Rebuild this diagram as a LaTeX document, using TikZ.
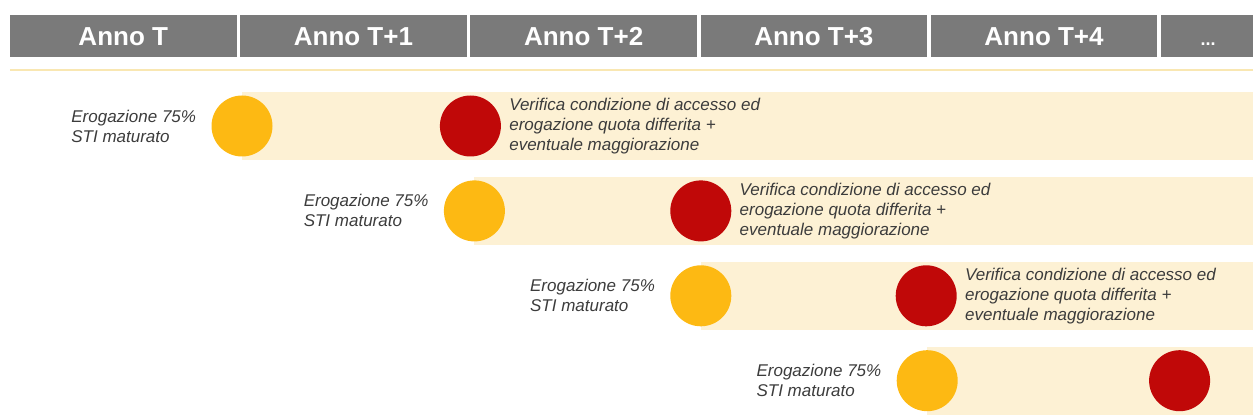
\documentclass[tikz,border=0pt]{standalone}
\usepackage{fontspec}
\setmainfont{Liberation Sans}
\usepackage{tikz}
\usetikzlibrary{positioning,calc,backgrounds}
\definecolor{annoGray}{RGB}{122,122,122}
\definecolor{stiYellow}{RGB}{253,185,19}
\definecolor{stiRed}{RGB}{192,8,8}
\definecolor{bandLight}{RGB}{253,241,212}
\definecolor{lineLight}{RGB}{249,231,178}
\definecolor{noteText}{RGB}{60,60,60}

\begin{document}
\begin{tikzpicture}[
    x=1pt, y=-1pt,
    node distance=3.3pt,
    anno/.style={fill=annoGray, text=white, font=\bfseries\fontsize{26}{30}\selectfont, minimum width=226.5pt, minimum height=42pt, text height=18.6pt, text depth=0pt, inner sep=0pt},
    acconto/.style={circle, fill=stiYellow, minimum size=61pt, inner sep=0pt},
    saldo/.style={circle, fill=stiRed, minimum size=61pt, inner sep=0pt},
    nota/.style={align=left, text=noteText, font=\itshape\fontsize{17}{20}\selectfont, inner sep=0pt},
    fascia/.style={fill=bandLight}
  ]
    \useasboundingbox (0,0) rectangle (1253,419);
    % header
    \node[anno] (a0) at (123.25,36) {Anno T};
    \node[anno, right=of a0] (a1) {Anno T+1};
    \node[anno, right=of a1] (a2) {Anno T+2};
    \node[anno, right=of a2] (a3) {Anno T+3};
    \node[anno, right=of a3] (a4) {Anno T+4};
    \node[anno, right=of a4, minimum width=94pt] (a5) {\fontsize{18}{20}\selectfont ...};
    \coordinate (fine) at (1253,0);
    \draw[lineLight, line width=2.5pt] ($(a0.south west)+(0,13)$) -- ($(a0.south west -| fine)+(0,13)$);
    % rows
    \node[acconto] (y1) at (242,126) {};
    \node[saldo, right=167pt of y1] (r1) {};
    \node[acconto, below=23.5pt of r1, xshift=4pt] (y2) {};
    \node[saldo, right=165pt of y2] (r2) {};
    \node[acconto, below=23.5pt of r2] (y3) {};
    \node[saldo, right=164pt of y3] (r3) {};
    \node[acconto, below=23.5pt of r3, xshift=1pt] (y4) {};
    \node[saldo, right=191pt of y4] (r4) {};
    \begin{scope}[on background layer]
      \foreach \i in {1,...,4}
        \fill[fascia] ($(y\i.center)+(0,-34)$) rectangle ($(y\i.center -| fine)+(0,34)$);
    \end{scope}
    % labels
    \foreach \i in {1,...,4}
      \node[nota, left=15pt of y\i] (e\i) {Erogazione 75\%\\STI maturato};
    \foreach \i in {1,...,3}
      \node[nota, right=8pt of r\i] (v\i) {Verifica condizione di accesso ed\\erogazione quota differita +\\eventuale maggiorazione};
  \end{tikzpicture}
\end{document}
